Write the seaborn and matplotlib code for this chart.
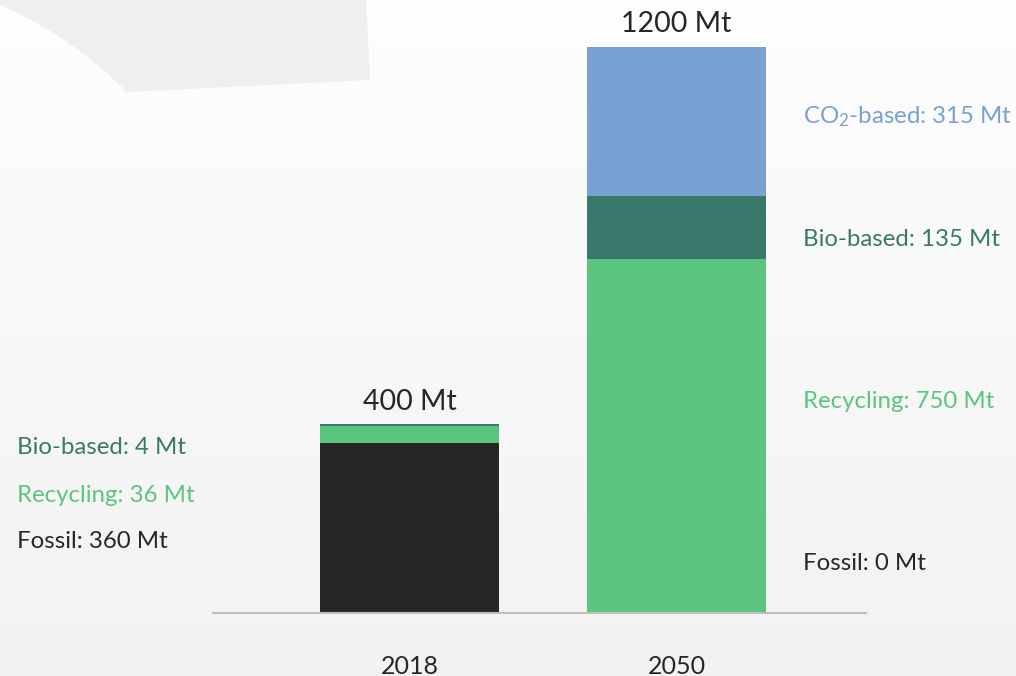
import matplotlib
matplotlib.use("Agg")
import matplotlib.pyplot as plt
import numpy as np
import pandas as pd
import seaborn as sns
from matplotlib.patches import PathPatch
from matplotlib.path import Path

# ---- data ----
years = ["2018", "2050"]
fossil = [360, 0]
recycling = [36, 750]
bio_based = [4, 135]
co2_based = [0, 315]
totals = [400, 1200]

colors = {
    "fossil": "#262626",
    "recycling": "#5bc57f",
    "bio": "#38796c",
    "co2": "#79a1d4",
}

sns.set_theme(style="white")
plt.rcParams["font.family"] = ["Lato", "DejaVu Sans"]
plt.rcParams["mathtext.fontset"] = "custom"
plt.rcParams["mathtext.rm"] = "Lato"
plt.rcParams["mathtext.it"] = "Lato"
plt.rcParams["mathtext.default"] = "regular"

W, H = 1016, 676
fig = plt.figure(figsize=(W / 100, H / 100), dpi=100)

# background gradient (white at top, light grey at bottom)
bg = fig.add_axes([0, 0, 1, 1], zorder=-10)
grad = np.linspace(0.995, 0.95, 256).reshape(-1, 1)
bg.imshow(np.dstack([grad, grad, grad]), aspect="auto", extent=[0, W, H, 0])
bg.set_xlim(0, W)
bg.set_ylim(H, 0)
bg.axis("off")
# decorative shape top-left
verts = [(0, -2), (366, -2), (370, 80), (127, 92), (70, 35), (0, 5), (0, -2)]
codes = [Path.MOVETO, Path.LINETO, Path.LINETO, Path.LINETO, Path.CURVE3, Path.CURVE3, Path.CLOSEPOLY]
bg.add_patch(PathPatch(Path(verts, codes), facecolor="#f0efed", edgecolor="none"))

ax = fig.add_axes([213 / W, (H - 613) / H, (866 - 213) / W, (613 - 47) / H])
ax.patch.set_alpha(0)

df = pd.DataFrame({
    "year": years,
    "fossil": fossil,
    "recycling": recycling,
    "bio": bio_based,
    "co2": co2_based,
})
df["c1"] = df["fossil"]
df["c2"] = df["c1"] + df["recycling"]
df["c3"] = df["c2"] + df["bio"]
df["c4"] = df["c3"] + df["co2"]

for col, key in [("c4", "co2"), ("c3", "bio"), ("c2", "recycling"), ("c1", "fossil")]:
    sns.barplot(data=df, x="year", y=col, color=colors[key], width=0.67,
                saturation=1, ax=ax, linewidth=0, order=years)

ax.set_xlim(-0.736, 1.71)
ax.set_ylim(0, 1200)
ax.set_xlabel("")
ax.set_ylabel("")
ax.set_yticks([])
for s in ["top", "right", "left"]:
    ax.spines[s].set_visible(False)
ax.spines["bottom"].set_color("#bfbfbf")
ax.spines["bottom"].set_linewidth(1.5)
ax.tick_params(axis="x", length=0, pad=30, labelsize=18, labelcolor="#262626")

# totals
for i, t in enumerate(totals):
    ax.annotate(f"{t} Mt", xy=(i, t), xytext=(0, 7), textcoords="offset points",
                ha="center", va="bottom", fontsize=20.5, color="#262626")

# segment labels (figure pixel positions)
def flabel(x, y, s, c):
    fig.text(x / W, 1 - y / H, s, ha="left", va="center", fontsize=17.3, color=c)

flabel(17, 448, f"Bio-based: {bio_based[0]} Mt", colors["bio"])
flabel(17, 495, f"Recycling: {recycling[0]} Mt", colors["recycling"])
flabel(17, 541, f"Fossil: {fossil[0]} Mt", colors["fossil"])
flabel(803, 117, "CO$_{2}$" + f"-based: {co2_based[1]} Mt", colors["co2"])
flabel(803, 240, f"Bio-based: {bio_based[1]} Mt", colors["bio"])
flabel(803, 402, f"Recycling: {recycling[1]} Mt", colors["recycling"])
flabel(803, 563, f"Fossil: {fossil[1]} Mt", colors["fossil"])

fig.savefig("out.png", dpi=100)
